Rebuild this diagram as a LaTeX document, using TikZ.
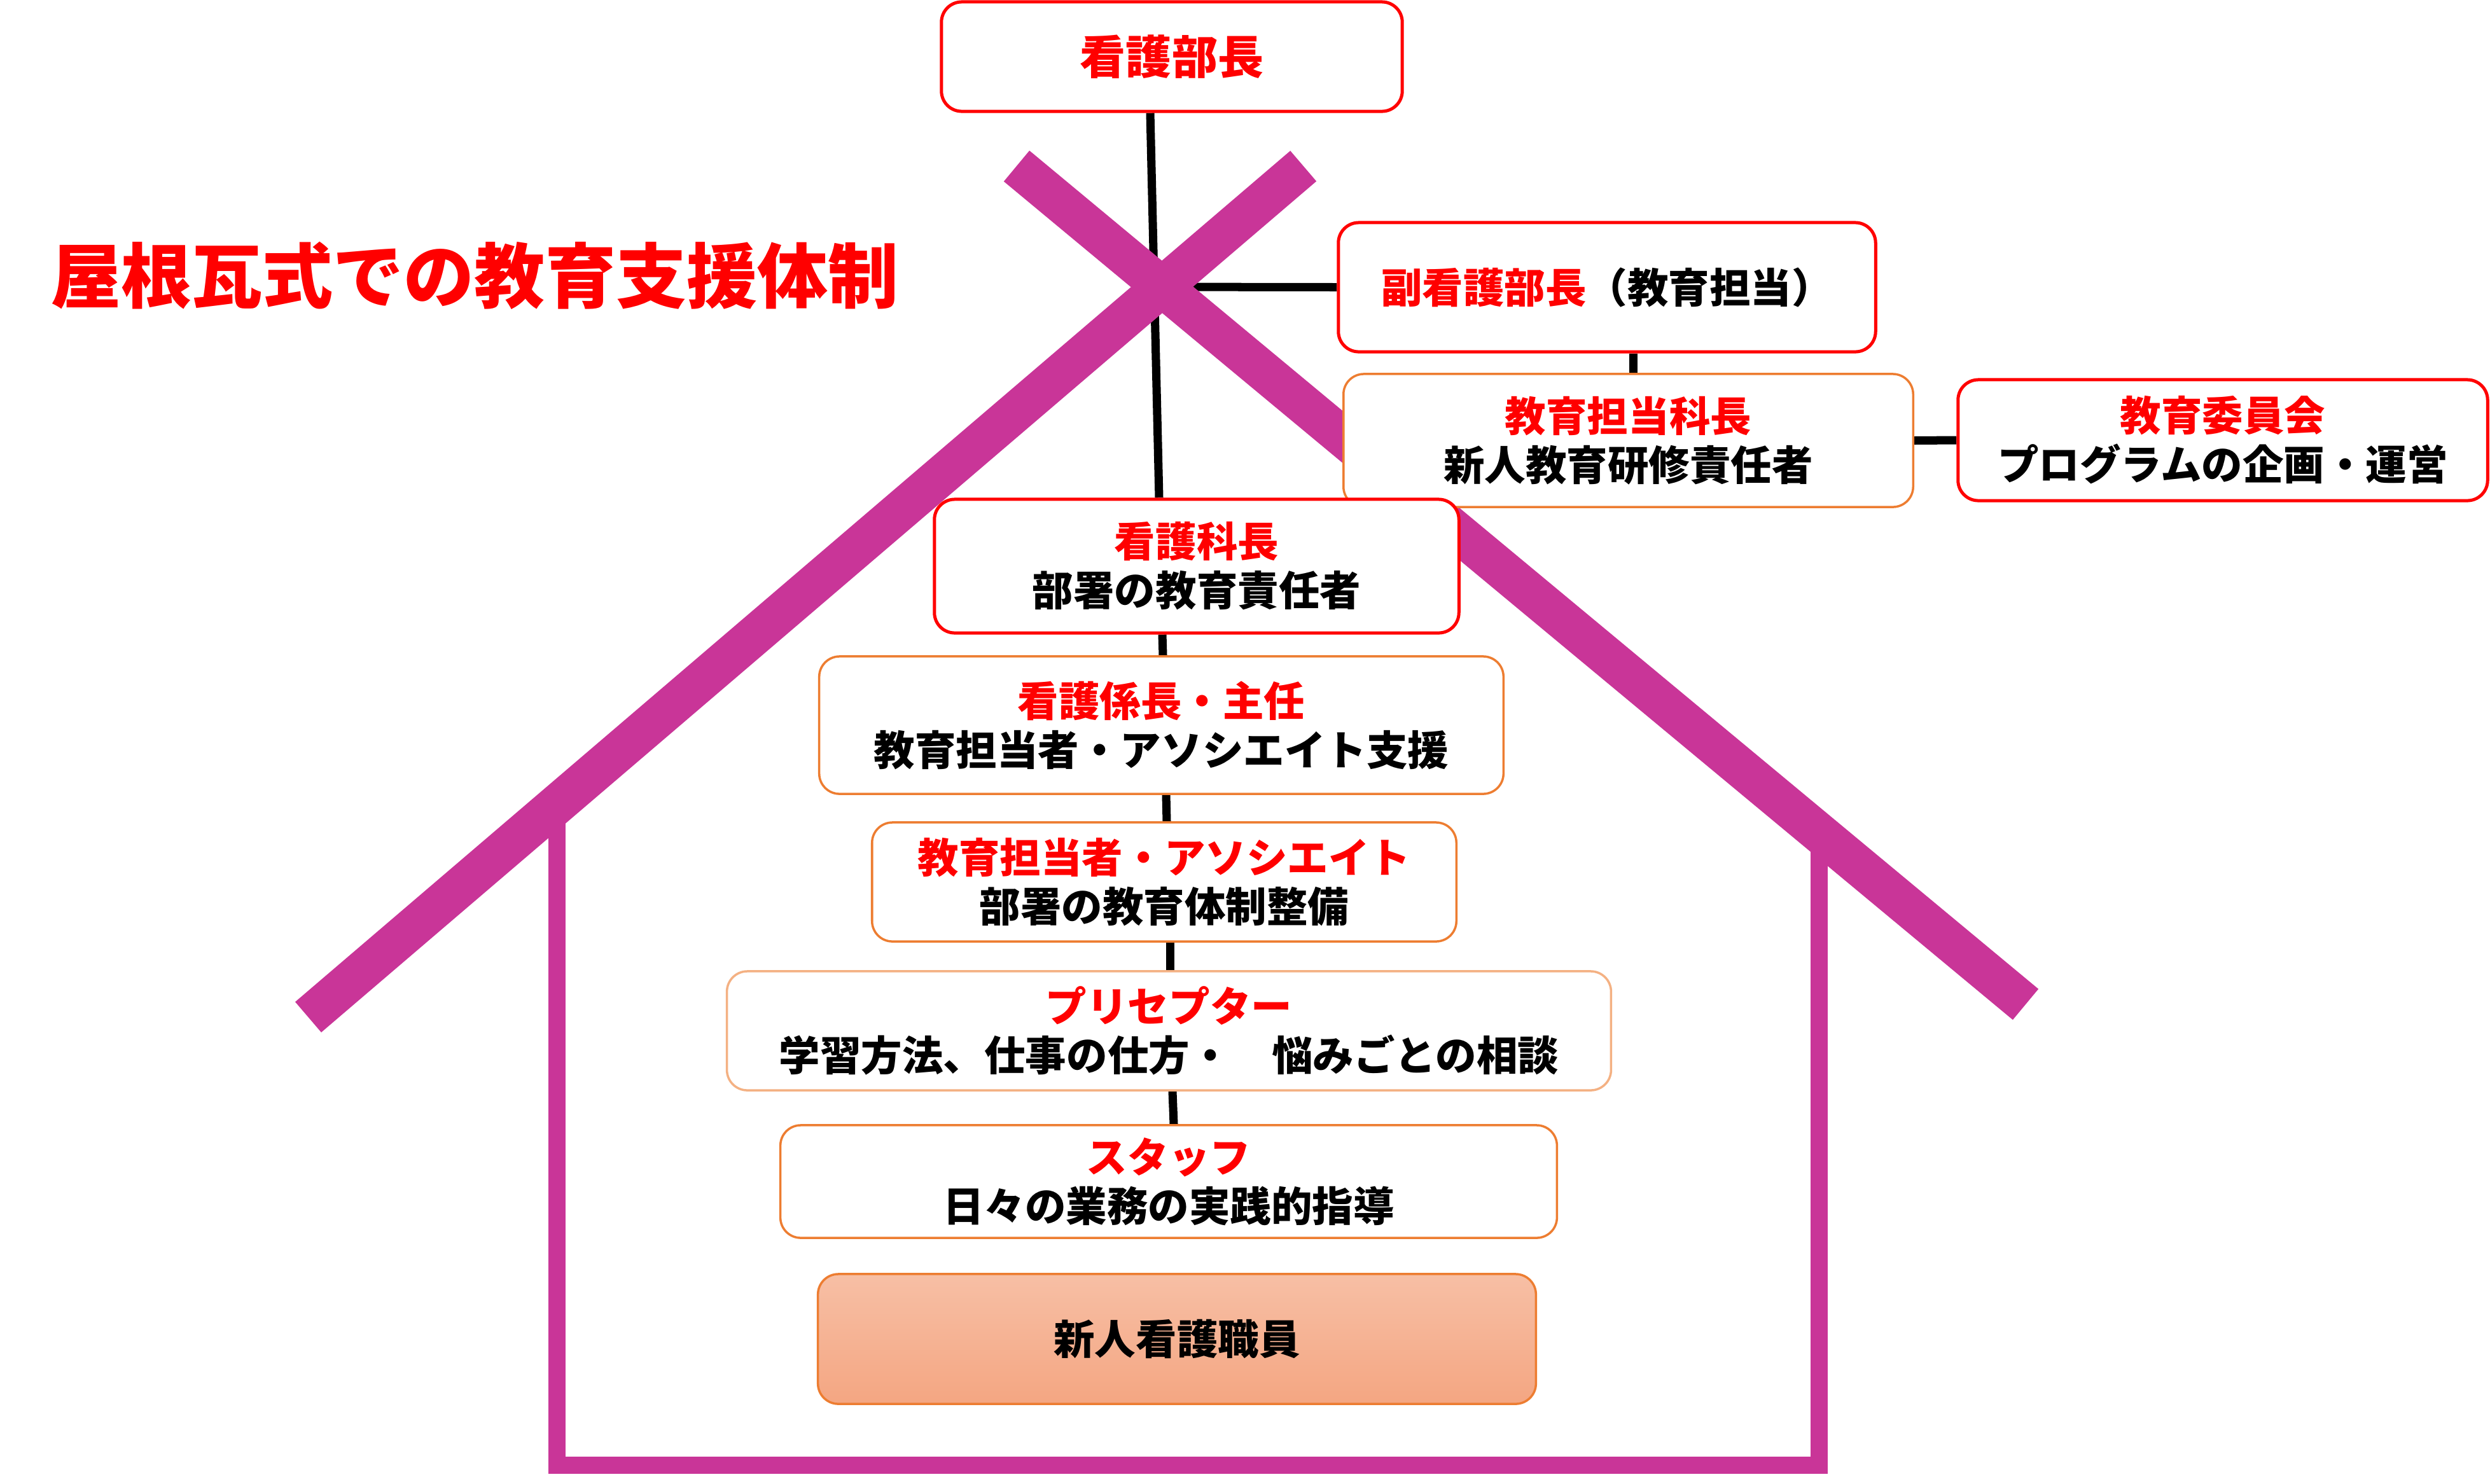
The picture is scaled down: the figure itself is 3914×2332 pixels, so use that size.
\documentclass[tikz,border=0pt]{standalone}
\usepackage{fontspec}
\setmainfont{Noto Sans CJK JP}
\usetikzlibrary{calc}
\definecolor{roofc}{RGB}{201,53,152}
\definecolor{bred}{RGB}{255,0,0}
\definecolor{borange}{RGB}{237,125,49}
\definecolor{lorange}{RGB}{244,177,131}
\definecolor{shtop}{RGB}{247,191,165}
\definecolor{shbot}{RGB}{244,166,130}
\pgfdeclarelayer{bg}
\pgfdeclarelayer{mid}
\pgfsetlayers{bg,mid,main}
\tikzset{
  box/.style={draw, rounded corners=0.32cm, fill=white, align=center, inner sep=0pt,
    font=\bfseries\fontsize{18.35pt}{21.9pt}\selectfont},
  redbox/.style={box, draw=bred, line width=0.05cm},
  orbox/.style={box, draw=borange, line width=0.035cm},
  ltbox/.style={box, draw=lorange, line width=0.035cm},
  conn/.style={line width=0.13cm, black},
  roofline/.style={roofc, line width=0.63cm},
  wallline/.style={roofc, line width=0.27cm, line join=miter}
}
\begin{document}
\begin{tikzpicture}[x=0.01cm, y=-0.01cm]
\useasboundingbox (0,0) rectangle (3914,2332);

% title
\node[font=\bfseries\fontsize{31.58pt}{36pt}\selectfont, text=bred, inner sep=0pt] (title) at (746,433) {屋根瓦式での教育支援体制};

% boxes
\node[redbox, minimum width=7.24cm, minimum height=1.72cm] (bucho) at (1842,89)
  {\textcolor{bred}{\fontsize{20.5pt}{24pt}\selectfont 看護部長}};
\node[redbox, minimum width=8.44cm, minimum height=2.03cm] (fuku) at (2526,451.5)
  {\textcolor{bred}{副看護部長}（教育担当）};
\node[orbox, minimum width=8.95cm, minimum height=2.09cm] (kkacho) at (2559.5,692.5)
  {\textcolor{bred}{教育担当科長}\\新人教育研修責任者};
\node[redbox, minimum width=8.32cm, minimum height=1.90cm] (iinkai) at (3494,692)
  {\textcolor{bred}{教育委員会}\\プログラムの企画・運営};
\node[redbox, minimum width=8.24cm, minimum height=2.10cm] (kacho) at (1881,890)
  {\textcolor{bred}{看護科長}\\部署の教育責任者};
\node[orbox, minimum width=10.75cm, minimum height=2.16cm] (kakari) at (1825.5,1140)
  {\textcolor{bred}{看護係長・主任}\\教育担当者・アソシエイト支援};
\node[orbox, minimum width=9.18cm, minimum height=1.87cm] (tanto) at (1830,1386.5)
  {\textcolor{bred}{教育担当者・アソシエイト}\\部署の教育体制整備};
\node[ltbox, minimum width=13.89cm, minimum height=1.87cm] (precep) at (1837.5,1620.5)
  {\textcolor{bred}{プリセプター}\\学習方法、仕事の仕方・　悩みごとの相談};
\node[orbox, minimum width=12.20cm, minimum height=1.77cm] (staff) at (1837,1857.5)
  {\textcolor{bred}{スタッフ}\\日々の業務の実践的指導};
\node[box, draw=borange, line width=0.035cm, top color=shtop, bottom color=shbot,
  minimum width=11.28cm, minimum height=2.04cm] (shinjin) at (1850,2105)
  {新人看護職員};

\coordinate (hub) at (1814,451);

% connectors and walls
\begin{pgfonlayer}{bg}
  \draw[wallline] (875,1290) -- (875,2303) -- (2859,2303) -- (2859,1320);
  \draw[conn] ($(bucho.south)+(-34,0)$) -- ($(kacho.north)+(-59,0)$);
  \draw[conn] ($(kacho.south)+(-54,0)$) -- ($(kakari.north)+(2.5,0)$);
  \draw[conn] ($(kakari.south)+(7.5,0)$) -- ($(tanto.north)+(4,0)$);
  \draw[conn] ($(tanto.south)+(9,0)$) -- ($(precep.north)+(1.5,0)$);
  \draw[conn] ($(precep.south)+(5.5,0)$) -- ($(staff.north)+(8,0)$);
  \draw[conn] (hub) -- (fuku.west);
  \draw[conn] ($(fuku.south)+(41,0)$) -- ($(kkacho.north)+(7.5,0)$);
  \draw[conn] (kkacho.east) -- (iinkai.west);
\end{pgfonlayer}

% roof
\begin{pgfonlayer}{mid}
  \draw[roofline] (484.5,1599) -- (2048.7,261);
  \draw[roofline] (1598,261) -- (3184,1579);
\end{pgfonlayer}
\end{tikzpicture}
\end{document}
